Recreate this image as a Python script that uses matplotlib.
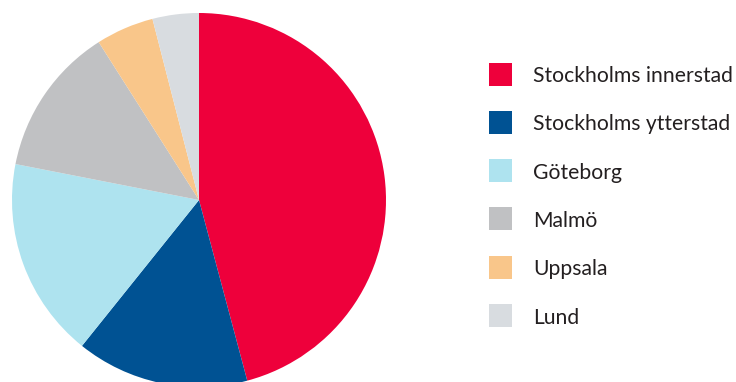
import matplotlib.pyplot as plt
from matplotlib.patches import Rectangle

labels = ["Stockholms innerstad", "Stockholms ytterstad", "Göteborg", "Malmö", "Uppsala", "Lund"]
shares = [45.8, 14.9, 17.3, 12.9, 5.0, 4.0]
colors = ["#ee003b", "#005293", "#aee3ef", "#c0c1c3", "#f9c68a", "#d8dce0"]

plt.rcParams['font.family'] = ['Lato', 'DejaVu Sans']

W, H = 736, 382
fig = plt.figure(figsize=(W / 100, H / 100), dpi=100)
ax = fig.add_axes([12 / W, -5 / H, 374 / W, 374 / H])
wedges, _ = ax.pie(shares, colors=colors, startangle=90, counterclock=False,
                   radius=1, wedgeprops=dict(linewidth=0))
ax.set_xlim(-1, 1)
ax.set_ylim(-1, 1)
ax.set_aspect('equal')
ax.axis('off')

# legend drawn by hand (pixel positions from the top)
y0, step, sq = 74, 48.3, 23
for i, (lab, col) in enumerate(zip(labels, colors)):
    yc = y0 + i * step
    fig.add_artist(Rectangle((489 / W, (H - yc - sq / 2) / H), sq / W, sq / H,
                             transform=fig.transFigure, facecolor=col, edgecolor='none'))
    fig.text(533 / W, (H - yc) / H, lab, fontsize=15.2, color='#231f20',
             va='center_baseline', ha='left')

fig.savefig("out.png", dpi=100)
